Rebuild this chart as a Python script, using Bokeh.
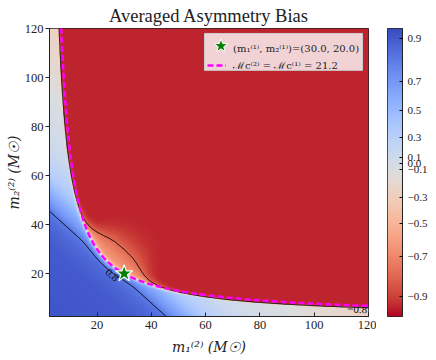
import numpy as np
from bokeh.plotting import figure
from bokeh.layouts import row
from bokeh.models import (LinearColorMapper, FixedTicker, Legend, LegendItem,
                          PolyAnnotation, BoxAnnotation)
from bokeh.embed import file_html
from bokeh.resources import INLINE
from bokeh.core.properties import value

# ---------------- data ----------------
m_lo, m_hi = 2.5, 120.0
m1_true, m2_true = 30.0, 20.0
x_ticks = [20, 40, 60, 80, 100, 120]
y_ticks = [20, 40, 60, 80, 100, 120]

# bias inside the true chirp-mass curve, as a function of total mass
total_mass_nodes = [5, 20, 35, 44, 48, 54, 62, 72, 84, 100, 122, 240]
inner_bias = [0.94, 0.93, 0.90, 0.85, 0.80, 0.62, 0.35, 0.15, 0.0, -0.14, -0.26, -0.3]

# behaviour across the chirp-mass boundary, as a function of mass ratio
q_nodes = [0.0, 0.1, 0.2, 0.3, 0.4, 0.5, 0.6, 0.7, 0.8, 0.9, 1.0]
transition_shift = [-2.0, -1.5, -1.0, -0.6, -0.25, -0.05, 0.0, 0.0, 0.0, 0.0, 0.0]
outer_lift = [0.0, 0.0, 0.02, 0.08, 0.22, 0.30, 0.30, 0.30, 0.30, 0.30, 0.30]
outer_scale = [1.0, 1.0, 1.0, 1.0, 1.3, 2.2, 3.65, 4.9, 5.7, 5.95, 6.1]
outer_spike = [0.0, 0.0, 0.0, 0.05, 0.15, 0.3, 0.32, 0.32, 0.32, 0.32, 0.32]
inner_ramp = [0.0, 0.0, 0.0, 0.2, 0.6, 1.0, 1.0, 1.0, 1.0, 1.0, 1.0]
inner_edge = 0.1
red_floor = -0.96

contour_levels = [-0.8, 0.8]
clabel_text = ["0.8", "\u22120.8"]
clabel_x = [25.5, 115.8]
clabel_y = [19.4, 5.4]
clabel_angle = [-0.72, -0.05]

cbar_tick_values = [0.9, 0.7, 0.5, 0.3, 0.1, 0.0, -0.1, -0.3, -0.5, -0.7, -0.9]
cbar_tick_labels = ["0.9", "0.7", "0.5", "0.3", "0.1", "0.0",
                    "\u22120.1", "\u22120.3", "\u22120.5", "\u22120.7", "\u22120.9"]
norm_values = [-1.0, -0.9, -0.7, -0.5, -0.3, -0.1, 0.0, 0.1, 0.3, 0.5, 0.7, 0.9, 1.0]
norm_positions = [0.0, 0.069, 0.210, 0.324, 0.414, 0.510, 0.532, 0.553, 0.621, 0.715, 0.817, 0.964, 1.0]

legend_labels = ["(m\u2081\u207d\u00b9\u207e, m\u2082\u207d\u00b9\u207e)=(30.0, 20.0)",
                 "\u2133c\u207d\u00b2\u207e = \u2133c\u207d\u00b9\u207e = 21.2"]

# matplotlib coolwarm reference colours (style)
coolwarm_lut = [
    (0.2298, 0.2987, 0.7537), (0.2662, 0.3531, 0.8015), (0.3039, 0.4065, 0.8450),
    (0.3428, 0.4588, 0.8837), (0.3830, 0.5094, 0.9174), (0.4244, 0.5581, 0.9456),
    (0.4667, 0.6046, 0.9682), (0.5096, 0.6483, 0.9848), (0.5530, 0.6889, 0.9954),
    (0.5963, 0.7261, 0.9998), (0.6392, 0.7596, 0.9982), (0.6813, 0.7890, 0.9904),
    (0.7222, 0.8140, 0.9766), (0.7615, 0.8343, 0.9569), (0.7987, 0.8498, 0.9317),
    (0.8335, 0.8602, 0.9011), (0.8654, 0.8654, 0.8654), (0.8978, 0.8489, 0.8209),
    (0.9241, 0.8274, 0.7745), (0.9445, 0.8009, 0.7267), (0.9589, 0.7698, 0.6780),
    (0.9673, 0.7341, 0.6288), (0.9700, 0.6943, 0.5794), (0.9668, 0.6504, 0.5303),
    (0.9580, 0.6028, 0.4818), (0.9437, 0.5518, 0.4342), (0.9239, 0.4973, 0.3880),
    (0.8990, 0.4396, 0.3432), (0.8692, 0.3783, 0.3003), (0.8346, 0.3129, 0.2593),
    (0.7956, 0.2413, 0.2205), (0.7525, 0.1572, 0.1841), (0.7057, 0.0156, 0.1502)]

# ---------------- build field ----------------
n = 420
ms = np.linspace(m_lo, m_hi, n)
M1, M2 = np.meshgrid(ms, ms)
Mt = M1 + M2
Mc = (M1 * M2) ** 0.6 / Mt ** 0.2
mc_true = (m1_true * m2_true) ** 0.6 / (m1_true + m2_true) ** 0.2
s = Mc - mc_true
q = np.minimum(M1, M2) / np.maximum(M1, M2)
d = s - np.interp(q, q_nodes, transition_shift)
g = np.interp(Mt, total_mass_nodes, inner_bias)
R = np.interp(q, q_nodes, inner_ramp)
v_in = g + (inner_edge - g) * R * np.exp(np.minimum(d, 0) / 0.4)
A = np.interp(q, q_nodes, outer_lift)
L = np.interp(q, q_nodes, outer_scale)
B = np.interp(q, q_nodes, outer_spike)
dp = np.maximum(d, 0)
v_out = red_floor + A * np.exp(-(dp / L) ** 2) + B * np.exp(-dp / 0.45)
T = 0.5 * (1 + np.tanh(d / 0.35))
V = v_in * (1 - T) + v_out * T
F = np.interp(V, norm_values, norm_positions)

lut = np.array(coolwarm_lut)
t = np.linspace(0, 1, 256)
idx = np.linspace(0, 1, len(lut))
palette = []
for ti in t:
    c = [np.interp(1 - ti, idx, lut[:, k]) for k in range(3)]
    palette.append("#%02x%02x%02x" % tuple(int(round(255 * ci)) for ci in c))
mapper = LinearColorMapper(palette=palette, low=0, high=1)

# equal chirp-mass curve
K = mc_true ** 5
cm1, cm2 = [], []
for a in np.linspace(m_lo, m_hi, 700):
    r = np.roots([a ** 3, 0, -K, -K * a])
    r = r[np.abs(r.imag) < 1e-9].real
    r = r[r > 0]
    if len(r) and r.max() <= 130:
        cm1.append(a)
        cm2.append(r.max())

SERIF = "Liberation Serif"
MATH = "DejaVu Serif"

# ---------------- layout constants (pixels) ----------------
FRAME_L, FRAME_W, FRAME_T, FRAME_H = 49, 319, 27, 289
MAIN_W, MAIN_H = 376, 360
FRAME_B = FRAME_T + FRAME_H
BOX_L, BOX_R, BOX_T, BOX_B = 204, 362, 32, 69
LEG_L, LEG_T, LEG_PAD, LEG_GW, LEG_ROW, LEG_SP = 207, 33, 4, 19, 14, 3
LEG_H = 2 * LEG_PAD + 2 * LEG_ROW + LEG_SP
ux = (m_hi - m_lo) / FRAME_W
uy = (m_hi - m_lo) / FRAME_H


def sx_to_x(sx):
    return m_lo + (sx - FRAME_L) * ux


def sy_to_y(sy):
    return m_lo + (FRAME_B - sy) * uy


p = figure(width=MAIN_W, height=MAIN_H, x_range=(m_lo, m_hi), y_range=(m_lo, m_hi),
           toolbar_location=None, output_backend="svg",
           min_border_left=FRAME_L, min_border_right=MAIN_W - FRAME_L - FRAME_W,
           min_border_top=FRAME_T, min_border_bottom=MAIN_H - FRAME_B,
           title="Averaged Asymmetry Bias")
p.title.text_font = SERIF
p.title.text_font_size = "18.5px"
p.title.text_font_style = "normal"
p.title.text_color = "#222222"
p.title.align = "center"
p.title.standoff = 6
p.grid.visible = False
p.outline_line_color = "#222222"

p.image(image=[F], x=m_lo, y=m_lo, dw=m_hi - m_lo, dh=m_hi - m_lo, color_mapper=mapper)
p.contour(x=ms, y=ms, z=V, levels=contour_levels, line_color="black", line_width=1.0)
p.text(x=clabel_x, y=clabel_y, text=clabel_text, angle=clabel_angle,
       text_font=value(SERIF), text_font_size="11px", text_color="#111111",
       text_align="center", text_baseline="middle")
mline = p.line(cm1, cm2, line_color="#ff00ff", line_width=2.5, line_dash="6 3")
star = p.scatter([m1_true], [m2_true], marker="star", size=18,
                 fill_color="#008000", line_color="white", line_width=1.2)
star_key = p.scatter([m1_true], [m2_true], marker="star", size=18, alpha=0)

for ax, ticks in ((p.xaxis, x_ticks), (p.yaxis, y_ticks)):
    ax.ticker = FixedTicker(ticks=ticks)
    ax.minor_tick_line_color = None
    ax.major_label_text_font = SERIF
    ax.major_label_text_font_size = "12.5px"
    ax.major_label_text_color = "#222222"
    ax.axis_line_color = "#222222"
    ax.major_tick_line_color = "#222222"
    ax.axis_label_text_font = MATH
    ax.axis_label_text_font_size = "14px"
    ax.axis_label_text_font_style = "italic"
    ax.axis_label_text_color = "#222222"
p.xaxis.major_tick_in = 4
p.xaxis.major_tick_out = 0
p.xaxis.major_label_standoff = 4
p.xaxis.axis_label_standoff = 7
p.yaxis.major_tick_in = 0
p.yaxis.major_tick_out = 4
p.yaxis.major_label_standoff = 2
p.yaxis.axis_label_standoff = 0
p.xaxis.axis_label = "m\u2081\u207d\u00b2\u207e (M\u2609)"
p.yaxis.axis_label = "m\u2082\u207d\u00b2\u207e (M\u2609)"

# legend frame (drawn separately so the star key can sit on top of it)
p.add_layout(BoxAnnotation(left=sx_to_x(BOX_L), right=sx_to_x(BOX_R),
                           top=sy_to_y(BOX_T), bottom=sy_to_y(BOX_B),
                           fill_color="white", fill_alpha=0.8,
                           line_color="#cccccc", line_alpha=1.0, line_width=1.0))

legend = Legend(items=[LegendItem(label=legend_labels[0], renderers=[star_key]),
                       LegendItem(label=legend_labels[1], renderers=[mline])],
                location=(LEG_L - FRAME_L, FRAME_B - (LEG_T + LEG_H)))
legend.background_fill_alpha = 0.0
legend.border_line_color = None
legend.label_text_font = MATH
legend.label_text_font_size = "10px"
legend.label_text_color = "#222222"
legend.glyph_width = LEG_GW
legend.glyph_height = LEG_ROW
legend.label_height = LEG_ROW
legend.label_standoff = 7
legend.padding = LEG_PAD
legend.spacing = LEG_SP
legend.margin = 0
p.add_layout(legend)

# star drawn in the legend key slot (legend markers are otherwise drawn tiny)
key_sx = LEG_L + LEG_PAD + LEG_GW / 2
key_sy = LEG_T + LEG_PAD + LEG_ROW / 2 + 0.5
ang = np.pi / 2 + np.arange(10) * np.pi / 5
rad = np.where(np.arange(10) % 2 == 0, 7.2, 2.9)
key_xs = sx_to_x(key_sx + rad * np.cos(ang))
key_ys = sy_to_y(key_sy - rad * np.sin(ang))
p.add_layout(PolyAnnotation(xs=list(key_xs), ys=list(key_ys), fill_color="#008000", fill_alpha=1.0,
                            line_color="white", line_alpha=1.0, line_width=1.0))

# colour bar as its own narrow figure
CB_L, CB_W, CB_T, CB_H = 11, 15, 28, 288
CB_FIG_W = 436 - MAIN_W
p2 = figure(width=CB_FIG_W, height=MAIN_H, x_range=(0, 1), y_range=(0, 1), y_axis_location="right",
            toolbar_location=None, output_backend="svg",
            min_border_left=CB_L, min_border_right=CB_FIG_W - CB_L - CB_W,
            min_border_top=CB_T, min_border_bottom=MAIN_H - CB_T - CB_H)
grad = np.linspace(0, 1, 300).reshape(300, 1)
p2.image(image=[grad], x=0, y=0, dw=1, dh=1, color_mapper=mapper)
p2.xaxis.visible = False
p2.grid.visible = False
p2.outline_line_color = "#222222"
tick_pos = [float(round(np.interp(v, norm_values, norm_positions), 4)) for v in cbar_tick_values]
p2.yaxis.ticker = FixedTicker(ticks=tick_pos)
p2.yaxis.major_label_overrides = {tp: lab for tp, lab in zip(tick_pos, cbar_tick_labels)}
p2.yaxis.minor_tick_line_color = None
p2.yaxis.major_tick_in = 3
p2.yaxis.major_tick_out = 0
p2.yaxis.major_label_standoff = 5
p2.yaxis.major_label_text_font = SERIF
p2.yaxis.major_label_text_font_size = "11px"
p2.yaxis.major_label_text_color = "#222222"
p2.yaxis.axis_line_color = "#222222"

layout = row(p, p2)
open("out.html", "w").write(file_html(layout, INLINE))
